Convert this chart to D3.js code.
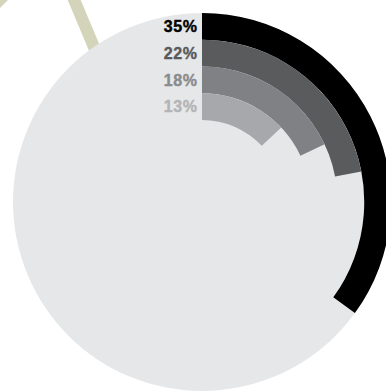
<!DOCTYPE html>
<html>
<head>
<meta charset="utf-8">
<script src="https://cdn.jsdelivr.net/npm/d3@7"></script>
<style>
  html, body { margin: 0; padding: 0; background: #ffffff; }
  svg { display: block; }
  text { font-family: "Liberation Sans", Arial, Helvetica, sans-serif; font-weight: bold; }
</style>
</head>
<body>
<svg id="chart" width="386" height="392"></svg>
<script>
// ---- data ----
const categories = ["A", "B", "C", "D"];
const values = [35, 22, 18, 13];          // percent
const labels = ["35%", "22%", "18%", "13%"];

// ---- styles ----
const barColors = ["#000000", "#5a5b5d", "#808184", "#a7a8ab"];
const labelColors = ["#000000", "#58595b", "#8a8b8d", "#b3b4b6"];

const W = 386, H = 392;
const cx = 202, cy = 202;
const R = 189, innerR = 82;
const spacing = 0.6;

const svg = d3.select("#chart");

// decorative olive strokes behind the circle
const deco = svg.append("g").attr("stroke", "#d3d4b9").attr("stroke-width", 12).attr("fill", "none");
deco.append("line").attr("x1", 70).attr("y1", -10).attr("x2", 112).attr("y2", 90);
deco.append("line").attr("x1", -30).attr("y1", 29.5).attr("x2", 29.5).attr("y2", -30);

const g = svg.append("g").attr("transform", `translate(${cx},${cy})`);

// background disc
g.append("circle").attr("r", R).attr("fill", "#e6e7e9");

const angle = d3.scaleLinear().domain([0, 100]).range([0, 2 * Math.PI]);
const radius = d3.scaleBand().domain(categories).range([R, innerR]).paddingInner(0);

const arc = d3.arc()
  .startAngle(0)
  .endAngle((d, i) => angle(values[i]))
  .innerRadius((d) => radius(d))
  .outerRadius((d) => radius(d) + radius.bandwidth());

g.selectAll("path.bar")
  .data(categories)
  .join("path")
  .attr("class", "bar")
  .attr("d", (d, i) => arc(d, i))
  .attr("fill", (d, i) => barColors[i]);

g.selectAll("text.lbl")
  .data(categories)
  .join("text")
  .attr("class", "lbl")
  .attr("x", -5 + spacing)
  .attr("y", (d) => -(radius(d) + radius.bandwidth() / 2))
  .attr("dy", "0.36em")
  .attr("text-anchor", "end")
  .attr("font-size", 16)
  .attr("letter-spacing", spacing)
  .attr("fill", (d, i) => labelColors[i])
  .attr("stroke", (d, i) => labelColors[i])
  .attr("stroke-width", 0.4)
  .text((d, i) => labels[i]);
</script>
</body>
</html>
